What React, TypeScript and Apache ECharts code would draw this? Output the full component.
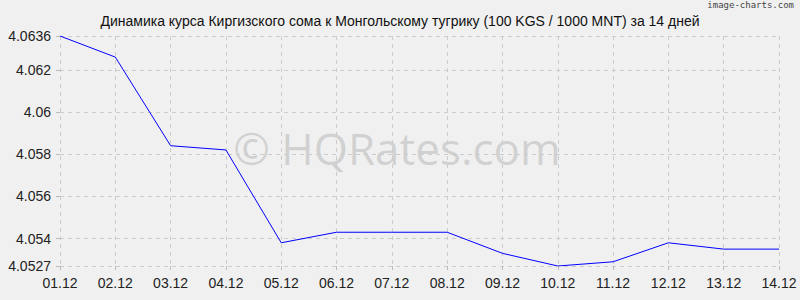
import React, { useEffect, useRef } from "react";
import * as echarts from "echarts";

const categories = ["01.12","02.12","03.12","04.12","05.12","06.12","07.12","08.12","09.12","10.12","11.12","12.12","13.12","14.12"];
const values = [4.0636, 4.0626, 4.0584, 4.0582, 4.0538, 4.0543, 4.0543, 4.0543, 4.0533, 4.0527, 4.0529, 4.0538, 4.0535, 4.0535];
const yTicks = [4.0527, 4.054, 4.056, 4.058, 4.06, 4.062, 4.0636];
const yMin = 4.0527;
const yMax = 4.0636;
const title = "Динамика курса Киргизского сома к Монгольскому тугрику (100 KGS / 1000 MNT) за 14 дней";

export default function App() {
  const ref = useRef<HTMLDivElement>(null);
  useEffect(() => {
    const chart = echarts.init(ref.current!, null, { renderer: "svg" });
    chart.setOption({
      animation: false,
      backgroundColor: "#f0f0f0",
      title: {
        text: title,
        left: "center",
        top: 9,
        textStyle: { fontFamily: "Liberation Sans, Arial", fontSize: 14, fontWeight: "normal", color: "#111" },
      },
      grid: { left: 60, right: 21, top: 36, bottom: 34 },
      xAxis: {
        type: "category",
        data: categories,
        boundaryGap: false,
        axisLine: { show: false },
        axisTick: { show: true, length: 4, lineStyle: { color: "#bbb" } },
        axisLabel: { fontFamily: "Liberation Sans, Arial", fontSize: 14, color: "#222", margin: 10 },
        splitLine: { show: true, lineStyle: { color: "#ccc", type: [4, 4], width: 1 } },
      },
      yAxis: {
        type: "value",
        min: yMin,
        max: yMax,
        axisLine: { show: false },
        axisTick: { show: true, length: 4, customValues: yTicks, lineStyle: { color: "#bbb" } },
        axisLabel: {
          customValues: yTicks,
          fontFamily: "Liberation Sans, Arial",
          fontSize: 14,
          color: "#222",
          margin: 9,
          formatter: (v: number) => String(+v.toFixed(4)),
        },
        splitLine: { show: true, lineStyle: { color: "#ccc", type: [4, 4], width: 1 } },
      },
      series: [
        {
          type: "line",
          data: values,
          symbol: "none",
          lineStyle: { color: "#0000ff", width: 1 },
          markLine: {
            silent: true,
            symbol: "none",
            label: { show: false },
            lineStyle: { color: "#ccc", type: "solid", width: 1 },
            data: [{ yAxis: yMin }],
          },
        },
      ],
      graphic: [
        {
          type: "text",
          right: 6,
          top: 0,
          style: { text: "image-charts.com", fontFamily: "DejaVu Sans Mono, monospace", fontSize: 9, fill: "#444" },
        },
        {
          type: "text",
          x: 397,
          y: 148,
          style: {
            text: "© HQRates.com",
            fontFamily: "Open Sans, Noto Sans, sans-serif",
            fontSize: 44,
            fill: "rgba(150,150,150,0.35)",
            align: "center",
            verticalAlign: "middle",
          },
        },
      ],
    });
    return () => chart.dispose();
  }, []);
  return <div ref={ref} style={{ width: 800, height: 300, position: "absolute", left: 0, top: 0 }} />;
}
